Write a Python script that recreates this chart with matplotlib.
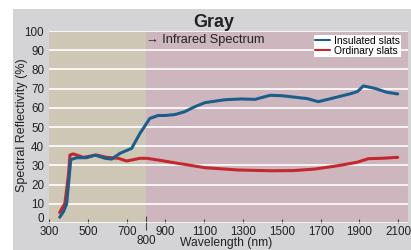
import matplotlib
matplotlib.use("Agg")
import matplotlib.pyplot as plt
import matplotlib.transforms as mtransforms
from matplotlib.patches import Rectangle

plt.rcParams['font.family'] = ['Liberation Sans', 'DejaVu Sans']

# wavelength (nm) / reflectivity (%)
insulated_nm = [355, 375, 391, 405, 412, 443, 494, 537, 589, 623, 666, 726,
                769, 820, 863, 900, 950, 1000, 1050, 1104, 1207, 1290, 1362,
                1439, 1500, 1568, 1630, 1688, 1757, 1860, 1890, 1920, 1980,
                2041, 2097]
insulated_val = [3, 6, 10, 25, 33, 34, 34, 35.4, 33.7, 33.3, 36.3, 38.9,
                 46.7, 54.5, 56, 56, 56.5, 58, 60.5, 62.7, 64.2, 64.6, 64.4,
                 66.5, 66.3, 65.5, 64.8, 63.2, 64.9, 67.5, 68.5, 71.4, 70.1,
                 68.1, 67.2]

ordinary_nm = [355, 382, 400, 408, 425, 477, 546, 597, 657, 700, 769, 803,
               863, 950, 1000, 1104, 1276, 1448, 1560, 1671, 1792, 1886,
               1946, 2015, 2097]
ordinary_val = [5.5, 10.3, 25, 35.4, 36, 34.2, 35.4, 34.2, 33.7, 32.3, 33.7,
                33.7, 32.8, 31.3, 30.5, 28.8, 27.6, 27.2, 27.3, 28.1, 29.9,
                31.6, 33.5, 33.7, 34.2]

xtick_vals = [300, 500, 700, 900, 1100, 1300, 1500, 1700, 1900, 2100]
ytick_vals = list(range(0, 101, 10))

W, H = 411, 250
fig = plt.figure(figsize=(W / 100, H / 100), dpi=100)
fig.patch.set_facecolor('white')
fig.patches.append(Rectangle((13 / W, 0), 398 / W, 241 / H, transform=fig.transFigure,
                             facecolor='#d4d4d6', edgecolor='none', zorder=-5))

ax = fig.add_axes([49 / W, 1 - 223 / H, 359 / W, 192 / H])
ax.set_facecolor('none')
ax.set_xlim(300, 2150)
ax.set_ylim(0, 100)
ax.axvspan(300, 800, color='#cfc7b5', lw=0, zorder=0)
ax.axvspan(800, 2150, color='#cdb6be', lw=0, zorder=0)
for s in ax.spines.values():
    s.set_visible(False)

ax.set_yticks(ytick_vals)
ax.yaxis.grid(True, color='white', lw=1.2, zorder=1)
ax.set_axisbelow(True)
ax.tick_params(axis='y', length=0, pad=3.6, labelsize=8.4, labelcolor='#222222')
# the "0" label sits a little higher, clear of the x labels
lab0 = ax.yaxis.get_major_ticks()[0].label1
lab0.set_transform(lab0.get_transform() +
                   mtransforms.ScaledTranslation(0, 5 / 100, fig.dpi_scale_trans))

ax.set_xticks(xtick_vals)
ax.set_xticks([800], minor=True)
ax.set_xticklabels(['800'], minor=True)
ax.tick_params(axis='x', which='major', direction='in', length=3, width=0.8,
               color='#444444', pad=2, labelsize=8.4, labelcolor='#222222')
ax.tick_params(axis='x', which='minor', direction='inout', length=10, width=0.8,
               color='#444444', pad=4, labelsize=8.4, labelcolor='#222222')

ax.plot(ordinary_nm, ordinary_val, color='#c4282e', lw=2.2,
        solid_capstyle='round', solid_joinstyle='round', zorder=3,
        label='Ordinary slats')
ax.plot(insulated_nm, insulated_val, color='#1b5e8c', lw=2.2,
        solid_capstyle='round', solid_joinstyle='round', zorder=4,
        label='Insulated slats')

h, l = ax.get_legend_handles_labels()
leg = ax.legend(h[::-1], l[::-1], loc='upper right', bbox_to_anchor=(401 / W, 1 - 35 / H),
                bbox_transform=fig.transFigure, fontsize=7.4, frameon=True,
                fancybox=False, framealpha=1, borderpad=0.1, labelspacing=0,
                handlelength=1.5, handletextpad=0.35, borderaxespad=0)
leg.get_frame().set_facecolor('white')
leg.get_frame().set_edgecolor('none')
for ln in leg.get_lines():
    ln.set_linewidth(1.5)

fig.text(214 / W, 1 - 27 / H, 'Gray', fontsize=13, fontweight='bold',
         ha='center', va='baseline', color='#222222')
fig.text(146 / W, 1 - 43 / H, '\u2192 Infrared Spectrum', fontsize=9.2,
         ha='left', va='baseline', color='#222222')
fig.text(22 / W, 1 - 125 / H, 'Spectral Reflectivity (%)', fontsize=9,
         rotation=90, ha='center', va='center', color='#222222')
fig.text(226.5 / W, 1 - 246 / H, 'Wavelength (nm)', fontsize=8.7,
         ha='center', va='baseline', color='#222222')

fig.savefig('out.png', dpi=100)
